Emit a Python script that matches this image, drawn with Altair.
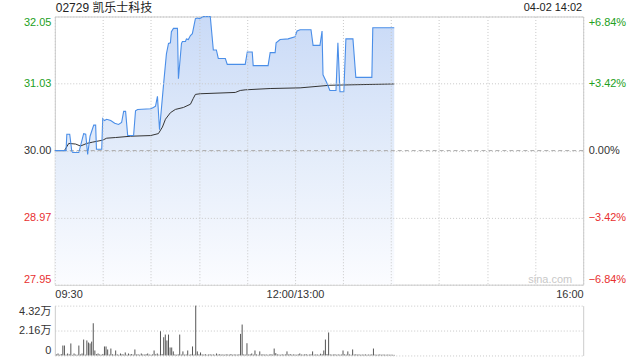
import altair as alt
import pandas as pd

# ---------------- data ----------------
title_text = "02729 凯乐士科技"
stamp_text = "04-02 14:02"
watermark_text = "sina.com"
prev_close = 30.00

# trading minutes from 09:30 (12:00 and 13:00 share minute 150)
price_min = [0, 7, 7.5, 9.3, 10.6, 11.2, 15, 18, 19.3, 20.5,
             22, 24.3, 25.5, 26, 29.3, 29.9, 31, 32.4, 34.9, 37.4,
             39.8, 41.7, 43, 44.2, 45.5, 49.2, 50.4, 51.7, 59.8, 61.6,
             62.9, 64.1, 65.4, 67.9, 69.7, 71, 72.2, 72.8, 74.1, 76.6,
             77.2, 79.1, 79.7, 81.6, 82.2, 83.4, 84.7, 85.9, 87.8, 89,
             90.3, 92.8, 97.1, 99, 100.9, 102.1, 106.5, 107.7, 118.9, 120.2,
             123.3, 123.9, 133.2, 134.5, 137.6, 138.2, 140.7, 145.7, 150, 151.3,
             153.2, 160, 161.3, 165.6, 166.9, 167.5, 170, 171.8, 175.6, 176.8,
             178.1, 180.5, 181.8, 186.2, 188, 198, 198.6, 212]
price_val = [30.00, 30.00, 30.25, 30.25, 29.99, 29.97, 29.97, 30.26, 30.25, 29.94,
             30.22, 30.39, 30.39, 30.02, 30.02, 30.49, 30.46, 30.48, 30.46, 30.42,
             30.40, 30.43, 30.60, 30.60, 30.23, 30.23, 30.61, 30.63, 30.64, 30.66,
             30.68, 30.83, 30.32, 31.01, 31.48, 31.64, 31.65, 31.82, 31.87, 31.87,
             31.10, 31.64, 31.67, 31.67, 31.71, 31.70, 31.76, 31.79, 32.02, 32.03,
             32.02, 32.05, 32.05, 31.54, 31.54, 31.41, 31.41, 31.32, 31.32, 31.51,
             31.51, 31.30, 31.30, 31.50, 31.50, 31.65, 31.70, 31.71, 31.74, 31.83,
             31.85, 31.85, 31.61, 31.61, 31.83, 31.16, 31.03, 30.92, 30.92, 31.65,
             30.90, 30.90, 31.71, 31.71, 31.12, 31.12, 31.88, 31.88]

avg_min = [0, 6, 8.7, 13, 16, 20, 23.7, 29.9, 32.4, 38,
           47.3, 59.8, 64.7, 67.2, 69.1, 72.2, 75.3, 80.3, 84.7, 86.5,
           87.8, 90.9, 112.7, 115.8, 118.9, 134.5, 153.2, 171.8, 212]
avg_val = [30.00, 30.00, 30.11, 30.10, 30.07, 30.11, 30.13, 30.16, 30.19, 30.20,
           30.22, 30.23, 30.26, 30.36, 30.48, 30.58, 30.63, 30.66, 30.71, 30.80,
           30.86, 30.87, 30.89, 30.92, 30.93, 30.95, 30.96, 31.00, 31.02]

vol_min = [2, 5, 6, 8, 10, 12, 15, 17, 18, 20, 21, 22, 23, 24, 25, 27, 31, 32, 33, 35,
           38, 41, 44, 46, 50, 54, 58, 62, 64, 66, 68, 69, 70, 71, 72, 73, 74, 78, 80, 83,
           86, 88, 89, 91, 101, 116, 117, 120, 123, 125, 128, 137, 138, 145, 153, 161, 166, 168, 169, 171,
           180, 183, 186, 199,
           1, 3, 4, 7, 9, 11, 13, 14, 16, 19, 26, 28, 29, 30, 34, 36, 37, 39, 40, 42,
           43, 45, 47, 48, 49, 51, 52, 53, 55, 56, 57, 59, 60, 61, 63, 65, 67, 75, 76, 77,
           79, 81, 82, 84, 85, 87, 90, 92, 93, 94, 95, 96, 97, 98, 99, 100, 102, 103, 104, 105,
           106, 107, 108, 109, 110, 111, 112, 113, 114, 115, 118, 119, 121, 122, 124, 126, 127, 129, 130, 131,
           132, 133, 134, 135, 136, 139, 140, 141, 142, 143, 144, 146, 147, 148, 149, 150, 151, 152, 154, 155,
           156, 157, 158, 159, 160, 162, 163, 164, 165, 167, 170, 172, 173, 174, 175, 176, 177, 178, 179, 181,
           182, 184, 185, 187, 188, 189, 190, 191, 192, 193, 194, 195, 196, 197, 198, 200, 201, 202, 203, 204,
           205, 206, 207, 208, 209, 210, 211, 212]
vol_val = [1700, 8600, 8600, 1700, 10400, 1700, 8600, 1700, 13800, 13000, 11200, 10400, 12000, 27900, 4300, 1700, 7800, 7800, 5200, 6000,
           4300, 1700, 2600, 1700, 5200, 1700, 1700, 4300, 1700, 21000, 15800, 18100, 13000, 18100, 6900, 6900, 3500, 18100, 3500, 4300,
           7800, 43200, 3500, 2600, 1700, 18700, 26800, 10600, 1700, 4300, 3500, 6000, 2000, 3500, 1700, 3500, 1500, 4300, 13800, 19900,
           4300, 3500, 5200, 6000,
           900, 600, 1200, 700, 1000, 500, 800, 600, 900, 700, 1100, 900, 600, 1300, 800, 1000, 700, 900, 600, 1100,
           800, 600, 900, 1200, 700, 800, 1000, 600, 900, 700, 1100, 800, 600, 900, 1000, 700, 1200, 900, 600, 1000,
           800, 700, 900, 600, 1000, 800, 1000, 900, 700, 1100, 600, 800, 1000, 700, 900, 600, 800, 1100, 700, 900,
           600, 1000, 800, 700, 1200, 600, 900, 800, 700, 1000, 900, 700, 800, 1000, 700, 900, 600, 800, 1000, 700,
           900, 600, 800, 1100, 700, 900, 800, 600, 1000, 700, 900, 800, 1200, 700, 900, 800, 600, 1000, 800, 700,
           900, 1100, 600, 800, 1000, 700, 900, 800, 600, 1000, 1200, 900, 700, 800, 1000, 600, 900, 700, 800, 1000,
           700, 900, 600, 800, 1000, 700, 900, 600, 800, 700, 900, 600, 800, 700, 900, 800, 600, 700, 900, 600,
           800, 700, 600, 800, 600, 700, 600, 500]

x_ticks = [0, 30, 60, 90, 120, 150, 180, 210, 240, 270, 300, 330]
y_ticks = [27.948, 28.974, 30.0, 31.026, 32.052]
vol_ticks = [0, 21600, 43200]

# ---------------- styles / layout ----------------
FONT = "Liberation Sans, Noto Sans CJK SC, sans-serif"
GREEN = "#22a022"
RED = "#e83030"
GRID = "#c8c8c8"
W, H, VH, GAP = 530, 269, 50, 21
PAD_L, PAD_T, PAD_R, PAD_B = 54, 14, 56, 6

price_df = pd.DataFrame({"minute": price_min, "price": price_val})
avg_df = pd.DataFrame({"minute": avg_min, "price": avg_val})
vol_df = pd.DataFrame({"minute": vol_min, "volume": vol_val})
pc_df = pd.DataFrame({"level": [prev_close]})

x_scale = alt.Scale(domain=[0, 330], nice=False, zero=False)
y_scale = alt.Scale(domain=[y_ticks[0], y_ticks[-1]], nice=False, zero=False)
v_scale = alt.Scale(domain=[0, 43200], nice=False)

color_cond = {
    "condition": [
        {"test": "datum.value > 30.01", "value": GREEN},
        {"test": "datum.value < 29.99", "value": RED},
    ],
    "value": "#333333",
}

x_axis = alt.Axis(
    values=x_ticks,
    labelExpr="datum.value == 0 ? '09:30' : datum.value == 150 ? '12:00/13:00' : datum.value == 330 ? '16:00' : ''",
    grid=True, gridDash=[1, 2], gridColor=GRID, ticks=False, domain=False,
    labelPadding=4, labelOverlap=False, labelFlush=True, title=None, zindex=1,
)
left_axis = alt.Axis(
    values=y_ticks, format=".2f", grid=True, gridDash=[1, 2], gridColor=GRID,
    ticks=False, domain=False, labelFlush=True, labelPadding=4, title=None,
    labelColor=color_cond, zindex=1,
)
right_axis = alt.Axis(
    orient="right", values=y_ticks,
    labelExpr="(datum.value > 30.01 ? '+' : '') + format((datum.value - 30) / 30 * 100, '.2f') + '%'",
    grid=False, ticks=False, domain=False, labelFlush=True, labelPadding=5, title=None,
    labelColor=color_cond,
)

gradient = alt.Gradient(
    gradient="linear",
    stops=[alt.GradientStop(color="#c9daf7", offset=0.0),
           alt.GradientStop(color="#e3ecfa", offset=0.5),
           alt.GradientStop(color="#fbfcff", offset=1.0)],
    x1=0.0, y1=0.0, x2=0.0, y2=1.0,
)

# invisible box that fixes the page bounds (so the plot sits where the reference's does)
page_box = alt.Chart(pd.DataFrame({"k": [0]})).mark_rect(opacity=0).encode(
    x=alt.value(-PAD_L), x2=alt.value(W + PAD_R),
    y=alt.value(-PAD_T), y2=alt.value(H + GAP + VH + PAD_B),
)

area = alt.Chart(price_df).mark_area(fill=gradient, stroke=None, interpolate="linear", clip=True).encode(
    x=alt.X("minute:Q", scale=x_scale, axis=x_axis),
    y=alt.Y("price:Q", scale=y_scale, axis=left_axis),
    y2=alt.datum(y_ticks[0]),
)
pc_rule = alt.Chart(pc_df).mark_rule(color="#aaaaaa", strokeDash=[4, 3], strokeWidth=1).encode(
    y=alt.Y("level:Q", scale=y_scale, axis=right_axis),
)
avg_line = alt.Chart(avg_df).mark_line(color="#333333", strokeWidth=1).encode(
    x=alt.X("minute:Q", scale=x_scale, axis=x_axis),
    y=alt.Y("price:Q", scale=y_scale, axis=None),
)
price_line = alt.Chart(price_df).mark_line(color="#4a8ee8", strokeWidth=1.1).encode(
    x=alt.X("minute:Q", scale=x_scale, axis=x_axis),
    y=alt.Y("price:Q", scale=y_scale, axis=None),
)
title_mark = alt.Chart(pd.DataFrame({"t": [title_text]})).mark_text(
    align="left", baseline="middle", fontSize=12, font=FONT, color="#222222"
).encode(text="t:N", x=alt.value(1), y=alt.value(-9))
stamp_mark = alt.Chart(pd.DataFrame({"t": [stamp_text]})).mark_text(
    align="right", baseline="middle", fontSize=11, font=FONT, color="#222222"
).encode(text="t:N", x=alt.value(W - 1), y=alt.value(-9))
wm_mark = alt.Chart(pd.DataFrame({"t": [watermark_text]})).mark_text(
    align="right", baseline="middle", fontSize=11, font=FONT, color="#c8c8c8"
).encode(text="t:N", x=alt.value(519), y=alt.value(264))

price_chart = alt.layer(
    page_box, area, pc_rule, avg_line, price_line, title_mark, stamp_mark, wm_mark
).resolve_axis(y="independent").properties(width=W, height=H)

vol_axis = alt.Axis(
    values=vol_ticks,
    labelExpr="datum.value == 0 ? '0' : format(datum.value / 10000, '.2f') + '万'",
    grid=True, gridDash=[1, 2], gridColor=GRID, ticks=False, domain=True, domainColor="#cccccc",
    labelFlush=True, labelPadding=4, title=None, labelColor="#333333",
)
bars = alt.Chart(vol_df).mark_rule(color="#555555", strokeWidth=1).encode(
    x=alt.X("minute:Q", scale=x_scale, axis=None),
    y=alt.Y("volume:Q", scale=v_scale, axis=vol_axis),
    y2=alt.datum(0),
)
right_edge = alt.Chart(vol_df).mark_point(opacity=0).encode(
    x=alt.X("minute:Q", scale=x_scale, axis=None),
    y=alt.Y("volume:Q", scale=v_scale, axis=alt.Axis(
        orient="right", labels=False, ticks=False, grid=False, domain=True,
        domainColor="#cccccc", title=None)),
)
vol_chart = alt.layer(bars, right_edge).resolve_axis(y="independent").properties(
    width=W, height=VH, view=alt.ViewBackground(stroke=None)
)

chart = alt.vconcat(price_chart, vol_chart, spacing=GAP, bounds="flush").configure(
    autosize=alt.AutoSizeParams(type="pad"),
    padding=0,
    background="white",
).configure_view(stroke="#cccccc").configure_axis(
    labelFont=FONT, labelFontSize=11, labelColor="#333333"
)

chart.save("out.html", embed_options={"renderer": "svg", "actions": False})
